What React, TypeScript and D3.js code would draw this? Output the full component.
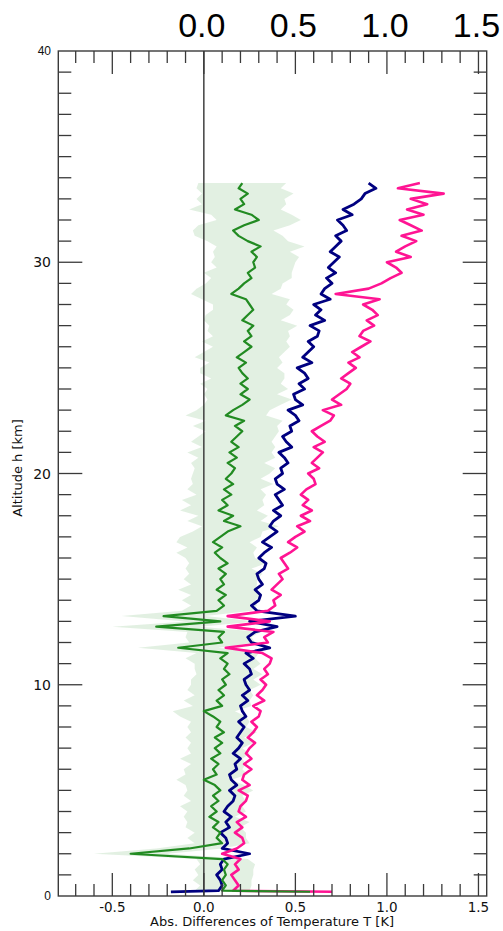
import React from "react";
import * as d3 from "d3";

// Altitude grid [km]: first sample near the ground, then every 0.25 km
const altitudes: number[] = [0.2, ...d3.range(1, 136).map((i) => i * 0.25)];

// Blue (navy) profile: abs. differences [K]
const navyValues: number[] = [
  -0.18,
  0.08, 0.10, 0.09, 0.07,
  0.10, 0.09, 0.11, 0.25,
  0.10, 0.13, 0.12, 0.09,
  0.14, 0.12, 0.15, 0.11,
  0.13, 0.16, 0.17, 0.14,
  0.18, 0.15, 0.14, 0.18,
  0.17, 0.20, 0.16, 0.19,
  0.21, 0.18, 0.20, 0.22,
  0.19, 0.23, 0.21, 0.20,
  0.24, 0.21, 0.25, 0.23,
  0.22, 0.26, 0.25, 0.22,
  0.27, 0.23, 0.36, 0.26,
  0.24, 0.28, 0.40, 0.25,
  0.50, 0.29, 0.26, 0.30,
  0.31, 0.28, 0.32, 0.30,
  0.29, 0.33, 0.34, 0.30,
  0.33, 0.37, 0.32, 0.36,
  0.40, 0.36, 0.38, 0.42,
  0.38, 0.43, 0.41, 0.39,
  0.44, 0.40, 0.39, 0.43,
  0.42, 0.46, 0.44, 0.41,
  0.48, 0.45, 0.43, 0.48,
  0.47, 0.52, 0.50, 0.46,
  0.54, 0.50, 0.49, 0.55,
  0.52, 0.57, 0.55, 0.51,
  0.59, 0.54, 0.57, 0.60,
  0.57, 0.62, 0.63, 0.58,
  0.66, 0.61, 0.64, 0.60,
  0.69, 0.64, 0.66, 0.70,
  0.67, 0.72, 0.68, 0.71,
  0.74, 0.69, 0.72, 0.75,
  0.72, 0.78, 0.76, 0.73,
  0.81, 0.76, 0.82, 0.86,
  0.88, 0.94, 0.90,
];

// Pink (deeppink) profile
const pinkValues: number[] = [
  0.70,
  0.16, 0.19, 0.17, 0.15,
  0.19, 0.17, 0.20, 0.10,
  0.18, 0.22, 0.21, 0.17,
  0.21, 0.18, 0.23, 0.19,
  0.20, 0.23, 0.24, 0.19,
  0.25, 0.21, 0.22, 0.26,
  0.22, 0.26, 0.23, 0.25,
  0.28, 0.24, 0.27, 0.29,
  0.26, 0.30, 0.31, 0.27,
  0.33, 0.29, 0.32, 0.34,
  0.31, 0.35, 0.33, 0.36,
  0.37, 0.32, 0.12, 0.35,
  0.33, 0.38, 0.13, 0.36,
  0.13, 0.35, 0.39, 0.38,
  0.42, 0.37, 0.40, 0.43,
  0.41, 0.46, 0.44, 0.42,
  0.47, 0.51, 0.46, 0.50,
  0.55, 0.51, 0.58, 0.53,
  0.59, 0.54, 0.57, 0.53,
  0.56, 0.61, 0.60, 0.57,
  0.63, 0.59, 0.62, 0.65,
  0.60, 0.66, 0.62, 0.59,
  0.64, 0.69, 0.71, 0.65,
  0.75, 0.70, 0.74, 0.78,
  0.80, 0.75, 0.79, 0.83,
  0.79, 0.85, 0.81, 0.86,
  0.91, 0.85, 0.87, 0.93,
  0.89, 0.95, 0.92, 0.87,
  0.96, 0.72, 0.90, 0.97,
  1.02, 1.08, 1.05, 1.00,
  1.13, 1.05, 1.10, 1.16,
  1.08, 1.19, 1.13, 1.07,
  1.20, 1.11, 1.22, 1.13,
  1.31, 1.06, 1.18,
];

// Green profile (mean difference)
const greenValues: number[] = [
  0.58,
  0.10, 0.12, 0.10, 0.12,
  0.11, 0.13, 0.10, -0.40,
  -0.08, 0.10, 0.07, 0.09,
  0.05, 0.08, 0.03, 0.07,
  0.04, 0.08, 0.05, 0.09,
  0.06, 0.00, 0.07, 0.05,
  0.08, 0.04, 0.09, 0.06,
  0.10, 0.06, 0.11, 0.07,
  0.09, 0.05, 0.00, 0.10,
  0.07, 0.11, 0.08, 0.12,
  0.10, 0.14, 0.11, 0.13,
  0.09, 0.13, -0.14, 0.10,
  0.08, 0.11, -0.26, 0.09,
  -0.22, 0.07, 0.11, 0.08,
  0.12, 0.07, 0.11, 0.09,
  0.12, 0.08, 0.13, 0.09,
  0.06, 0.10, 0.05, 0.09,
  0.13, 0.20, 0.11, 0.16,
  0.08, 0.13, 0.10, 0.15,
  0.11, 0.16, 0.12, 0.15,
  0.17, 0.13, 0.18, 0.14,
  0.19, 0.15, 0.18, 0.21,
  0.17, 0.22, 0.12, 0.16,
  0.21, 0.25, 0.20, 0.24,
  0.20, 0.24, 0.21, 0.19,
  0.23, 0.18, 0.22, 0.26,
  0.22, 0.26, 0.24, 0.27,
  0.21, 0.24, 0.27, 0.25,
  0.23, 0.15, 0.19, 0.22,
  0.26, 0.24, 0.28, 0.27,
  0.29, 0.26, 0.31, 0.24,
  0.19, 0.16, 0.22, 0.30,
  0.26, 0.17, 0.22, 0.20,
  0.24, 0.19, 0.21,
];

// Green spread (half width of shaded band)
const greenSpread: number[] = [
  0.05,
  0.15, 0.14, 0.16, 0.15,
  0.16, 0.15, 0.14, 0.20,
  0.18, 0.15, 0.16, 0.14,
  0.15, 0.17, 0.14, 0.16,
  0.17, 0.15, 0.16, 0.18,
  0.16, 0.15, 0.17, 0.16,
  0.15, 0.17, 0.16, 0.15,
  0.17, 0.16, 0.18, 0.16,
  0.16, 0.18, 0.17, 0.16,
  0.18, 0.16, 0.17, 0.19,
  0.17, 0.18, 0.16, 0.18,
  0.19, 0.17, 0.22, 0.18,
  0.18, 0.20, 0.24, 0.19,
  0.23, 0.19, 0.18, 0.20,
  0.19, 0.21, 0.18, 0.20,
  0.20, 0.18, 0.21, 0.19,
  0.21, 0.19, 0.20, 0.22,
  0.19, 0.21, 0.20, 0.19,
  0.21, 0.20, 0.22, 0.19,
  0.20, 0.22, 0.19, 0.21,
  0.22, 0.20, 0.21, 0.23,
  0.20, 0.22, 0.21, 0.20,
  0.23, 0.21, 0.22, 0.20,
  0.21, 0.23, 0.20, 0.22,
  0.22, 0.20, 0.23, 0.21,
  0.20, 0.23, 0.22, 0.21,
  0.23, 0.21, 0.22, 0.24,
  0.21, 0.23, 0.22, 0.20,
  0.24, 0.22, 0.23, 0.21,
  0.22, 0.24, 0.21, 0.23,
  0.23, 0.21, 0.24, 0.22,
  0.24, 0.22, 0.25, 0.23,
  0.22, 0.25, 0.23, 0.24,
  0.25, 0.23, 0.24,
];

const xMinorTicks: number[] = d3.range(-7, 16).map((i) => i / 10);
const xMajorTicks: number[] = [-0.5, 0, 0.5, 1.0, 1.5];
const xBottomLabels: string[] = ["-0.5", "0.0", "0.5", "1.0", "1.5"];
const xTopTicks: number[] = [0, 0.5, 1.0, 1.5];
const xTopLabels: string[] = ["0.0", "0.5", "1.0", "1.5"];
const yMinorTicks: number[] = d3.range(1, 40);
const yMajorTicks: number[] = [0, 10, 20, 30, 40];
const yLabels: string[] = ["0", "10", "20", "30", "40"];

const xLabel = "Abs. Differences of Temperature T [K]";
const yLabel = "Altitude h [km]";

export default function App() {
  const W = 503;
  const H = 931;
  const left = 58.3;
  const right = 486.7;
  const top = 51;
  const bottom = 896;
  const x = d3.scaleLinear().domain([-0.795, 1.545]).range([left, right]);
  const y = d3.scaleLinear().domain([0, 40]).range([bottom, top]);

  const idx = altitudes.map((_, i) => i);
  const lineOf = (vals: number[]) =>
    d3
      .line<number>()
      .x((i) => x(vals[i]))
      .y((i) => y(altitudes[i]))(idx) || "";
  const band =
    d3
      .area<number>()
      .y((i) => y(altitudes[i]))
      .x0((i) => x(greenValues[i] - greenSpread[i]))
      .x1((i) => x(greenValues[i] + greenSpread[i]))(idx) || "";

  const axisColor = "#3a3a3a";
  const tickFont = "DejaVu Sans, sans-serif";

  return (
    <svg
      width={W}
      height={H}
      style={{ position: "absolute", left: 0, top: 0, background: "#fff" }}
    >
      <defs>
        <clipPath id="plotClip">
          <rect x={left} y={top} width={right - left} height={bottom - top} />
        </clipPath>
      </defs>
      <rect x={0} y={0} width={W} height={H} fill="#fff" />
      <g clipPath="url(#plotClip)">
        <path d={band} fill="#228B22" fillOpacity={0.13} stroke="none" />
        <line
          x1={x(0)}
          x2={x(0)}
          y1={top}
          y2={bottom}
          stroke="#333"
          strokeWidth={1.4}
        />
        <path d={lineOf(navyValues)} fill="none" stroke="#000080" strokeWidth={2.8} strokeLinejoin="round" />
        <path d={lineOf(pinkValues)} fill="none" stroke="#FF1493" strokeWidth={2.6} strokeLinejoin="round" />
        <path d={lineOf(greenValues)} fill="none" stroke="#228B22" strokeWidth={2.2} strokeLinejoin="round" />
      </g>

      {/* x ticks, top and bottom, inward */}
      {xMinorTicks.map((v) => {
        const major = xMajorTicks.some((m) => Math.abs(m - v) < 1e-9);
        const len = major ? 23 : 12;
        return (
          <g key={"xt" + v} stroke={axisColor} strokeWidth={1.3}>
            <line x1={x(v)} x2={x(v)} y1={bottom} y2={bottom - len} />
            <line x1={x(v)} x2={x(v)} y1={top} y2={top + len} />
          </g>
        );
      })}
      {/* y ticks, left and right, inward */}
      {yMinorTicks.map((v) => {
        const major = yMajorTicks.includes(v);
        const len = major ? 24 : 13;
        return (
          <g key={"yt" + v} stroke={axisColor} strokeWidth={1.3}>
            <line x1={left} x2={left + len} y1={y(v)} y2={y(v)} />
            <line x1={right} x2={right - len} y1={y(v)} y2={y(v)} />
          </g>
        );
      })}

      <rect
        x={left}
        y={top}
        width={right - left}
        height={bottom - top}
        fill="none"
        stroke={axisColor}
        strokeWidth={1.4}
      />

      {/* bottom tick labels */}
      {xMajorTicks.map((v, i) => (
        <text
          key={"xl" + v}
          x={x(v)}
          y={912}
          textAnchor="middle"
          fontFamily={tickFont}
          fontSize={13.5}
          fill="#111"
        >
          {xBottomLabels[i]}
        </text>
      ))}
      {/* top large labels */}
      {xTopTicks.map((v, i) => (
        <text
          key={"xtl" + v}
          x={x(v) - 2}
          y={37}
          textAnchor="middle"
          fontFamily="Liberation Sans, Arial, sans-serif"
          fontSize={34}
          fill="#000"
        >
          {xTopLabels[i]}
        </text>
      ))}
      {/* left tick labels */}
      {yMajorTicks.map((v, i) => {
        const small = v === 0 || v === 40;
        return (
          <text
            key={"yl" + v}
            x={51}
            y={y(v) + (small ? 4 : 5)}
            textAnchor="end"
            fontFamily={small ? "Liberation Sans, Arial, sans-serif" : tickFont}
            fontSize={small ? 12 : 14}
            fill="#111"
          >
            {yLabels[i]}
          </text>
        );
      })}

      <text
        x={272}
        y={926}
        textAnchor="middle"
        fontFamily={tickFont}
        fontSize={13}
        fill="#111"
      >
        {xLabel}
      </text>
      <text
        transform={`translate(22,${468}) rotate(-90)`}
        textAnchor="middle"
        fontFamily={tickFont}
        fontSize={13}
        fill="#111"
      >
        {yLabel}
      </text>
    </svg>
  );
}
